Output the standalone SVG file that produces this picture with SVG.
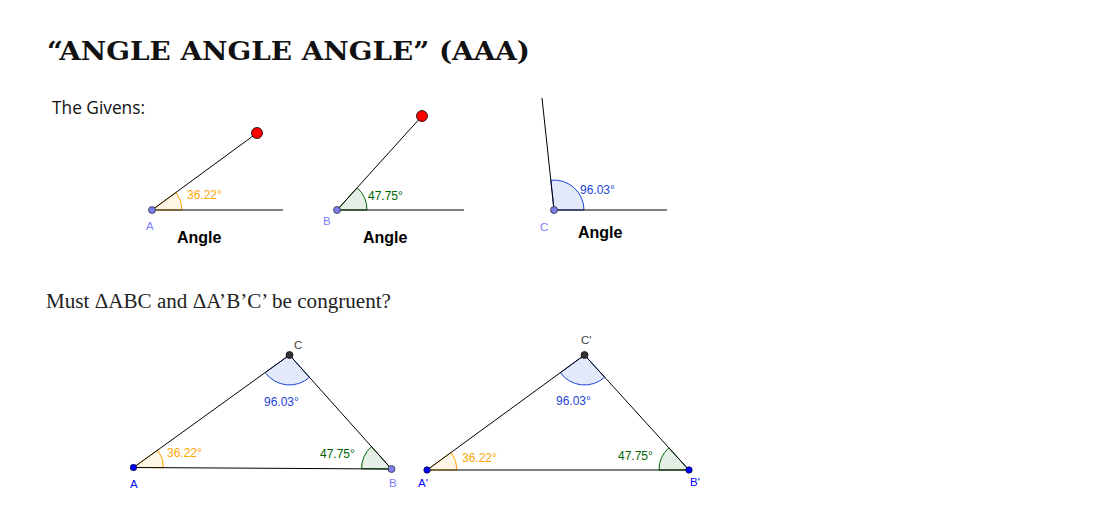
<svg xmlns="http://www.w3.org/2000/svg" width="1100" height="524" viewBox="0 0 1100 524">
<style>
text{font-family:"Liberation Sans",Arial,sans-serif}
.title{font-family:"DejaVu Serif",serif;font-weight:700;font-size:26px;fill:#111}
.given{font-family:"Open Sans","Liberation Sans",sans-serif;font-size:18px;fill:#111}
.must{font-family:"Liberation Serif","Times New Roman",serif;font-size:20px;fill:#222}
.heading{font-weight:700;font-size:16px;fill:#000}
.lbl{font-size:12px}
.or{fill:#ffa500}.gr{fill:#006400}.bl{fill:#1a44d6}
.ln{stroke:#000;stroke-width:1;fill:none}
.ao{fill:#ffa500;fill-opacity:.1;stroke:#ffa500;stroke-width:1}
.ag{fill:#006400;fill-opacity:.1;stroke:#006400;stroke-width:1}
.ab{fill:#1a44d6;fill-opacity:.12;stroke:#1a44d6;stroke-width:1}
.red{fill:#f00;stroke:#000;stroke-width:.8}
.pale{fill:#7d7df0;stroke:#222;stroke-width:.7}
.blue{fill:#0000ff;stroke:#002;stroke-width:.7}
.dark{fill:#333;stroke:#000;stroke-width:.7}
.tp{fill:#7d7dff;font-size:11.5px}.tb{fill:#0000ff;font-size:11.5px}.td{fill:#444;font-size:11.5px}
</style>
<g id="texts">
<text class="title" x="47" y="60" textLength="483" lengthAdjust="spacingAndGlyphs">“ANGLE ANGLE ANGLE” (AAA)</text>
<text class="given" x="52" y="114" textLength="93" lengthAdjust="spacingAndGlyphs">The Givens:</text>
<text class="must" x="46" y="308" textLength="345" lengthAdjust="spacingAndGlyphs">Must ΔABC and ΔA’B’C’ be congruent?</text>
</g>
<g id="connectors">
<path class="ao" d="M152 210L182 210A30 30 0 0 0 176.2 192.3Z"/>
<path class="ag" d="M337 210L367 210A30 30 0 0 0 357.2 187.8Z"/>
<path class="ab" d="M554 210L584 210A30 30 0 0 0 550.9 180.2Z"/>
<path class="ln" d="M152 210L257 133M152 210H283M337 210L422 116M337 210H464M554 210L542 98M554 210H667"/>
<path class="ao" d="M133.5 467.5L163.5 467.7A30 30 0 0 0 157.8 449.95Z"/>
<path class="ag" d="M391.5 469L361.5 468.8A30 30 0 0 1 371.5 446.65Z"/>
<path class="ab" d="M289.5 355L265.2 372.55A30 30 0 0 0 309.5 377.35Z"/>
<path class="ln" d="M133.5 467.5L289.5 355L391.5 469Z"/>
<path class="ao" d="M427 470L457 470A30 30 0 0 0 451.2 452.3Z"/>
<path class="ag" d="M689 470L659 470A30 30 0 0 1 668.8 447.8Z"/>
<path class="ab" d="M584.5 355L560.3 372.7A30 30 0 0 0 604.7 377.2Z"/>
<path class="ln" d="M427 470L584.5 355L689 470Z"/>
</g>
<g id="angle-a">
<circle class="pale" cx="152" cy="210" r="3.5"/><circle class="red" cx="257" cy="133" r="5.5"/>
<text class="tp" x="146" y="230">A</text><text class="lbl or" x="187" y="199">36.22°</text>
<text class="heading" x="177" y="243">Angle</text>
</g>
<g id="angle-b">
<circle class="pale" cx="337" cy="210" r="3.5"/><circle class="red" cx="422" cy="116" r="5.5"/>
<text class="tp" x="323" y="225">B</text><text class="lbl gr" x="368" y="200">47.75°</text>
<text class="heading" x="363" y="243">Angle</text>
</g>
<g id="angle-c">
<circle class="pale" cx="554" cy="210" r="3.5"/>
<text class="tp" x="540" y="231">C</text><text class="lbl bl" x="580" y="194">96.03°</text>
<text class="heading" x="578" y="238">Angle</text>
</g>
<g id="triangle-abc">
<circle class="blue" cx="133.5" cy="467.5" r="3.2"/><circle class="pale" cx="391.5" cy="469" r="3.5"/><circle class="dark" cx="289.5" cy="355" r="3.5"/>
<text class="tb" x="130" y="488">A</text><text class="tp" x="389" y="487">B</text><text class="td" x="294" y="349">C</text>
<text class="lbl or" x="167" y="457">36.22°</text><text class="lbl gr" x="320" y="458">47.75°</text><text class="lbl bl" x="264" y="406">96.03°</text>
</g>
<g id="triangle-abc-prime">
<circle class="blue" cx="427" cy="470" r="3.2"/><circle class="blue" cx="689" cy="470" r="3.2"/><circle class="dark" cx="584.5" cy="355" r="3.5"/>
<text class="tb" x="418" y="487">A'</text><text class="tb" x="690" y="486">B'</text><text class="td" x="581" y="344">C'</text>
<text class="lbl or" x="462" y="462">36.22°</text><text class="lbl gr" x="618" y="460">47.75°</text><text class="lbl bl" x="556" y="405">96.03°</text>
</g>
</svg>
